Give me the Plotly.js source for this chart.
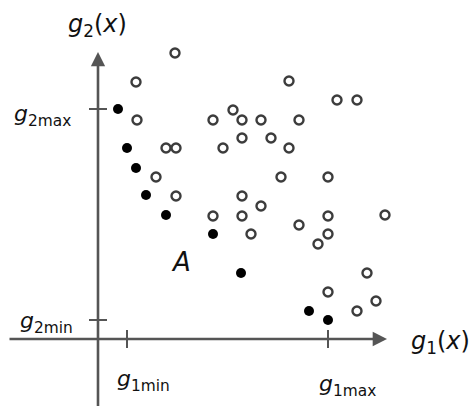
<!DOCTYPE html>
<html>
<head>
<meta charset="utf-8">
<script src="https://cdn.plot.ly/plotly-3.0.1.min.js"></script>
<style>html,body{margin:0;padding:0;background:#fff;}#chart{width:473px;height:406px;}</style>
</head>
<body>
<div id="chart"></div>
<script>
// Pareto-style scatter in objective space (g1, g2)
var dominatedG1 = [7.7, 3.8, 19.1, 23.9, 25.9, 3.9, 11.5, 13.5, 14.4, 16.3, 20.1, 14.4, 17.3, 6.8, 7.8, 12.5, 19.1, 5.8, 18.3, 23.0, 7.8, 14.4, 16.3, 11.5, 14.4, 23.0, 28.7, 20.1, 15.3, 23.0, 22.0, 26.9, 23.0, 27.8, 25.9];
var dominatedG2 = [28.6, 25.7, 25.8, 23.9, 23.9, 21.9, 21.9, 22.9, 21.9, 21.9, 21.9, 20.1, 20.1, 19.1, 19.1, 19.1, 19.1, 16.2, 16.2, 16.2, 14.3, 14.3, 13.3, 12.3, 12.3, 12.3, 12.4, 11.4, 10.5, 10.5, 9.5, 6.6, 4.7, 3.8, 2.8];
var paretoG1 = [2.0, 2.9, 3.8, 4.8, 6.8, 11.5, 14.3, 21.1, 23.0];
var paretoG2 = [23.0, 19.1, 17.1, 14.4, 12.4, 10.5, 6.6, 2.8, 1.9];
var g1min = 2.9, g1max = 23.0, g2min = 1.9, g2max = 23.0;
var tickLabels = {
  g2axis: '<i>g</i><sub>2</sub>(<i>x</i>)',
  g1axis: '<i>g</i><sub>1</sub>(<i>x</i>)',
  g2max: '<i>g</i><sub>2max</sub>',
  g2min: '<i>g</i><sub>2min</sub>',
  g1min: '<i>g</i><sub>1min</sub>',
  g1max: '<i>g</i><sub>1max</sub>',
  region: '<i>A</i>'
};

var axisColor = '#555555';
var textFont = {family: 'DejaVu Sans, Verdana, sans-serif', size: 22, color: '#111111'};

var traces = [
  {x: dominatedG1, y: dominatedG2, mode: 'markers', type: 'scatter',
   marker: {symbol: 'circle-open', size: 9, color: '#3c3c3c', line: {width: 2.4, color: '#3c3c3c'}},
   hoverinfo: 'skip'},
  {x: paretoG1, y: paretoG2, mode: 'markers', type: 'scatter',
   marker: {symbol: 'circle', size: 10, color: '#000000'}, hoverinfo: 'skip'}
];

var tickLen = 0.9;
var shapes = [
  {type: 'line', xref: 'x', yref: 'y', x0: -tickLen, x1: tickLen, y0: g2max, y1: g2max, line: {color: axisColor, width: 2}},
  {type: 'line', xref: 'x', yref: 'y', x0: -tickLen, x1: tickLen, y0: g2min, y1: g2min, line: {color: axisColor, width: 2}},
  {type: 'line', xref: 'x', yref: 'y', x0: g1min, x1: g1min, y0: -tickLen, y1: tickLen, line: {color: axisColor, width: 2}},
  {type: 'line', xref: 'x', yref: 'y', x0: g1max, x1: g1max, y0: -tickLen, y1: tickLen, line: {color: axisColor, width: 2}}
];

function arrow(x0, y0, x1, y1) {
  return {x: x1, y: y1, ax: x0, ay: y0, xref: 'x', yref: 'y', axref: 'x', ayref: 'y',
          text: '', showarrow: true, arrowhead: 2, arrowsize: 1.1, arrowwidth: 2.6,
          arrowcolor: axisColor, standoff: 0, startstandoff: 0};
}
function label(text, x, y, xanchor, yanchor, size) {
  var f = Object.assign({}, textFont);
  if (size) f.size = size;
  return {x: x, y: y, xref: 'x', yref: 'y', text: text, showarrow: false,
          xanchor: xanchor, yanchor: yanchor, font: f};
}

var annotations = [
  arrow(-9.0, 0, 28.9, 0),
  arrow(0, -7.5, 0, 28.7),
  label(tickLabels.g2axis, -0.1, 31.4, 'center', 'middle', 24),
  label(tickLabels.g1axis, 31.1, -0.3, 'left', 'middle', 24),
  label(tickLabels.g2max, -2.5, 22.4, 'right', 'middle'),
  label(tickLabels.g2min, -2.3, 1.7, 'right', 'middle'),
  label(tickLabels.g1min, 1.7, -4.1, 'left', 'middle'),
  label(tickLabels.g1max, 21.9, -4.6, 'left', 'middle'),
  label(tickLabels.region, 8.3, 7.7, 'center', 'middle', 26)
];

var hidden = {showgrid: false, zeroline: false, showticklabels: false, ticks: '', showline: false, fixedrange: true};
var layout = {
  width: 473, height: 406,
  margin: {l: 0, r: 0, t: 0, b: 0, pad: 0},
  paper_bgcolor: '#ffffff', plot_bgcolor: '#ffffff',
  showlegend: false,
  xaxis: Object.assign({range: [-9.8, 37.5]}, hidden),
  yaxis: Object.assign({range: [-6.7, 33.9]}, hidden),
  shapes: shapes,
  annotations: annotations
};

Plotly.newPlot('chart', traces, layout, {staticPlot: true, displayModeBar: false});
</script>
</body>
</html>
